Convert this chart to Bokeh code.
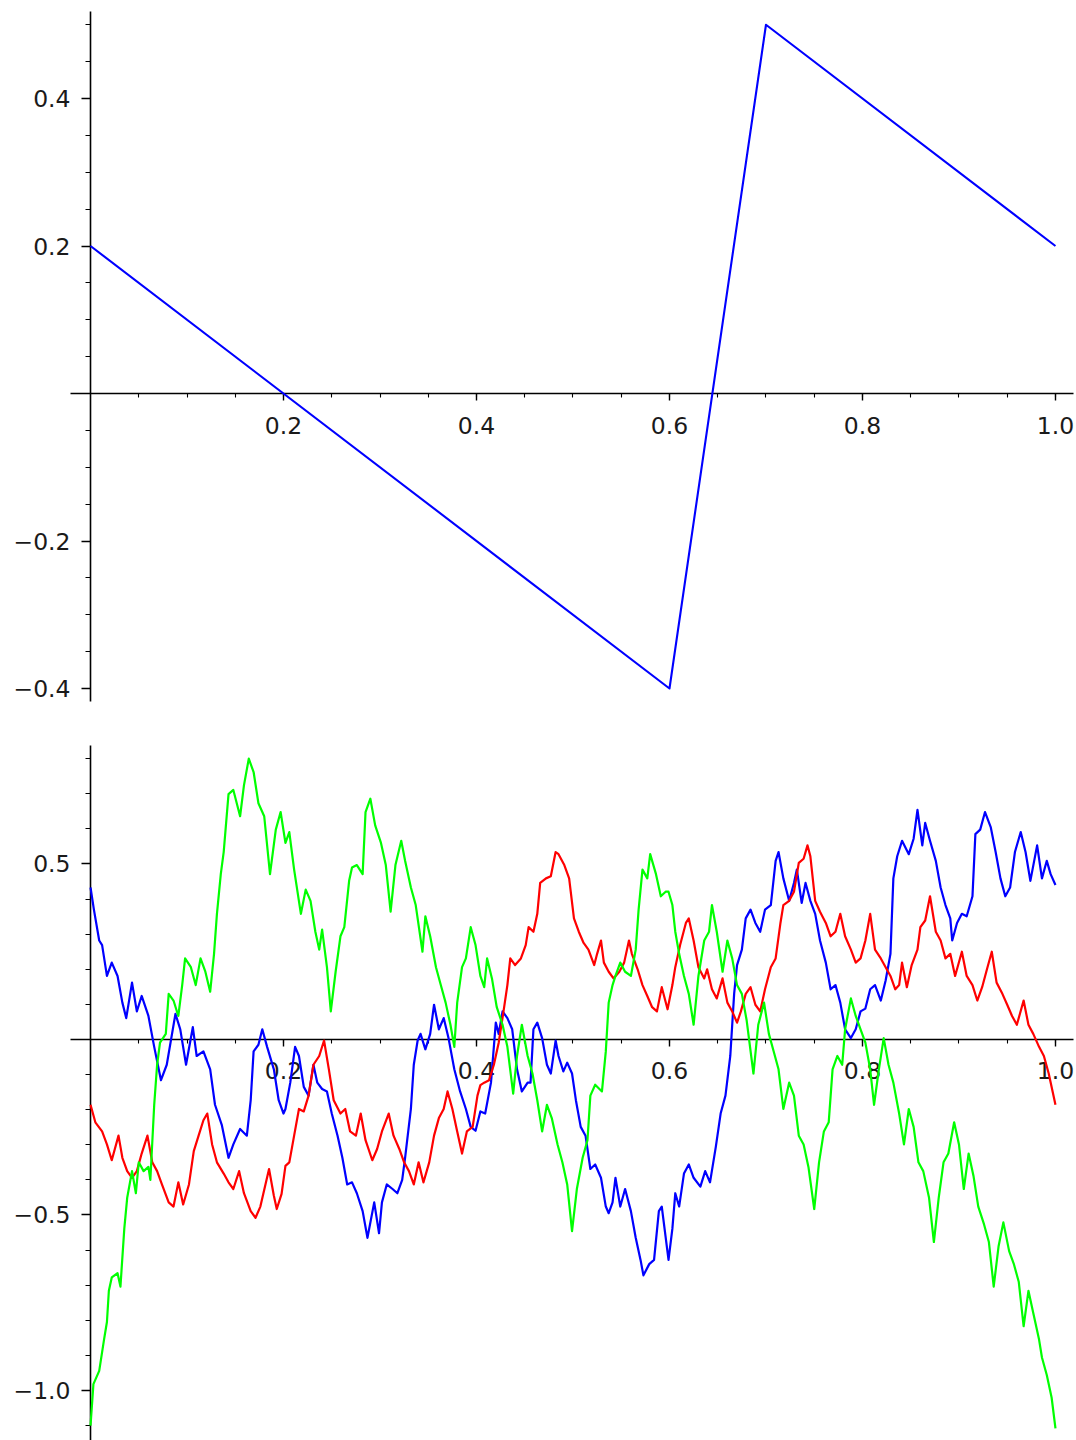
from bokeh.plotting import figure
from bokeh.layouts import column
from bokeh.models import Range1d, FixedTicker, CustomJSTickFormatter
from bokeh.embed import file_html
from bokeh.resources import INLINE

# ---------------- data ----------------
top_x = [0.0, 0.6, 0.7, 1.0]
top_y = [0.2, -0.4, 0.5, 0.2]

blue_x = [0.000, 0.0035, 0.009, 0.012, 0.017, 0.022, 0.028, 0.033, 0.037, 0.043, 0.048, 0.053, 0.060, 0.066, 0.073, 0.079,
          0.088, 0.093, 0.099, 0.106, 0.110, 0.117, 0.124, 0.129, 0.136, 0.143, 0.148, 0.155, 0.162, 0.166, 0.169, 0.174,
          0.178, 0.183, 0.190, 0.195, 0.200, 0.202, 0.207, 0.212, 0.216, 0.221, 0.226, 0.231, 0.235, 0.240, 0.245, 0.250,
          0.256, 0.261, 0.266, 0.271, 0.276, 0.282, 0.287, 0.294, 0.299, 0.302, 0.307, 0.313, 0.318, 0.323, 0.326, 0.332,
          0.335, 0.339, 0.342, 0.347, 0.352, 0.356, 0.361, 0.366, 0.371, 0.377, 0.383, 0.389, 0.394, 0.399, 0.404, 0.409,
          0.415, 0.420, 0.423, 0.427, 0.432, 0.437, 0.442, 0.447, 0.453, 0.456, 0.459, 0.463, 0.468, 0.473, 0.477, 0.482,
          0.485, 0.490, 0.494, 0.499, 0.503, 0.508, 0.513, 0.518, 0.523, 0.529, 0.534, 0.537, 0.541, 0.544, 0.549, 0.554,
          0.560, 0.565, 0.570, 0.573, 0.579, 0.584, 0.589, 0.592, 0.599, 0.603, 0.606, 0.610, 0.615, 0.620, 0.625, 0.632,
          0.637, 0.642, 0.648, 0.653, 0.658, 0.663, 0.667, 0.670, 0.675, 0.679, 0.684, 0.689, 0.694, 0.699, 0.705, 0.710,
          0.713, 0.718, 0.724, 0.729, 0.732, 0.737, 0.741, 0.746, 0.751, 0.756, 0.762, 0.767, 0.772, 0.777, 0.782, 0.788,
          0.793, 0.798, 0.803, 0.808, 0.813, 0.819, 0.824, 0.829, 0.832, 0.836, 0.841, 0.848, 0.853, 0.857, 0.862, 0.865,
          0.870, 0.876, 0.881, 0.886, 0.891, 0.893, 0.898, 0.903, 0.908, 0.914, 0.917, 0.922, 0.927, 0.933, 0.938, 0.943,
          0.948, 0.953, 0.958, 0.964, 0.969, 0.974, 0.981, 0.986, 0.991, 0.995, 1.000]
blue_y = [0.433, 0.370, 0.282, 0.269, 0.181, 0.219, 0.181, 0.105, 0.061, 0.162, 0.080, 0.124, 0.067, -0.021, -0.116, -0.072,
          0.073, 0.029, -0.072, 0.035, -0.047, -0.034, -0.085, -0.186, -0.243, -0.337, -0.299, -0.255, -0.274, -0.173, -0.034, -0.015,
          0.029, -0.021, -0.085, -0.173, -0.211, -0.198, -0.123, -0.021, -0.047, -0.135, -0.160, -0.072, -0.123, -0.141, -0.148, -0.211,
          -0.274, -0.337, -0.413, -0.407, -0.438, -0.489, -0.565, -0.464, -0.552, -0.464, -0.413, -0.426, -0.438, -0.400, -0.337, -0.198,
          -0.072, -0.003, 0.016, -0.028, 0.016, 0.099, 0.029, 0.061, 0.004, -0.085, -0.148, -0.198, -0.249, -0.260, -0.205, -0.211,
          -0.123, 0.048, 0.016, 0.080, 0.061, 0.029, -0.085, -0.148, -0.123, -0.123, 0.029, 0.048, 0.004, -0.072, -0.097, -0.003,
          -0.047, -0.091, -0.066, -0.097, -0.173, -0.249, -0.274, -0.369, -0.356, -0.394, -0.476, -0.495, -0.464, -0.394, -0.476, -0.426,
          -0.489, -0.565, -0.628, -0.672, -0.640, -0.628, -0.489, -0.476, -0.628, -0.539, -0.438, -0.476, -0.382, -0.356, -0.394, -0.419,
          -0.375, -0.407, -0.306, -0.211, -0.160, -0.047, 0.130, 0.212, 0.256, 0.345, 0.370, 0.332, 0.307, 0.370, 0.383, 0.509,
          0.534, 0.459, 0.395, 0.446, 0.484, 0.389, 0.446, 0.395, 0.358, 0.282, 0.219, 0.143, 0.155, 0.105, 0.029, 0.004,
          0.029, 0.080, 0.088, 0.143, 0.155, 0.111, 0.168, 0.244, 0.459, 0.522, 0.566, 0.528, 0.572, 0.654, 0.553, 0.617,
          0.566, 0.509, 0.433, 0.383, 0.345, 0.282, 0.332, 0.358, 0.351, 0.408, 0.585, 0.598, 0.648, 0.604, 0.534, 0.459,
          0.408, 0.433, 0.534, 0.591, 0.534, 0.452, 0.553, 0.459, 0.509, 0.471, 0.440]

red_x = [0.000, 0.005, 0.012, 0.017, 0.022, 0.029, 0.033, 0.038, 0.043, 0.048, 0.053, 0.059, 0.064, 0.069, 0.074, 0.081,
         0.086, 0.091, 0.096, 0.102, 0.107, 0.112, 0.117, 0.121, 0.126, 0.131, 0.138, 0.143, 0.148, 0.154, 0.159, 0.166,
         0.171, 0.176, 0.185, 0.190, 0.193, 0.198, 0.202, 0.206, 0.211, 0.216, 0.221, 0.226, 0.231, 0.237, 0.242, 0.247,
         0.252, 0.259, 0.264, 0.269, 0.275, 0.280, 0.285, 0.292, 0.297, 0.302, 0.309, 0.314, 0.320, 0.325, 0.330, 0.335,
         0.340, 0.345, 0.351, 0.356, 0.361, 0.366, 0.370, 0.375, 0.380, 0.385, 0.390, 0.396, 0.401, 0.404, 0.408, 0.413,
         0.418, 0.423, 0.428, 0.432, 0.435, 0.440, 0.446, 0.451, 0.454, 0.459, 0.463, 0.466, 0.472, 0.477, 0.482, 0.485,
         0.491, 0.496, 0.501, 0.506, 0.511, 0.516, 0.522, 0.525, 0.529, 0.532, 0.537, 0.542, 0.548, 0.553, 0.558, 0.561,
         0.567, 0.572, 0.577, 0.582, 0.587, 0.592, 0.598, 0.603, 0.606, 0.611, 0.617, 0.620, 0.625, 0.630, 0.636, 0.639,
         0.644, 0.649, 0.655, 0.660, 0.665, 0.670, 0.674, 0.679, 0.684, 0.689, 0.694, 0.699, 0.705, 0.710, 0.715, 0.718,
         0.724, 0.729, 0.734, 0.739, 0.743, 0.746, 0.751, 0.756, 0.762, 0.767, 0.772, 0.777, 0.782, 0.788, 0.793, 0.798,
         0.803, 0.808, 0.813, 0.819, 0.824, 0.829, 0.834, 0.838, 0.841, 0.846, 0.851, 0.857, 0.860, 0.865, 0.870, 0.876,
         0.881, 0.886, 0.891, 0.896, 0.903, 0.908, 0.914, 0.919, 0.924, 0.929, 0.934, 0.939, 0.945, 0.950, 0.955, 0.960,
         0.967, 0.972, 0.977, 0.983, 0.988, 0.993, 1.000]
red_y = [-0.186, -0.236, -0.262, -0.299, -0.344, -0.274, -0.337, -0.375, -0.394, -0.375, -0.325, -0.274, -0.350, -0.375, -0.413, -0.464,
         -0.476, -0.407, -0.470, -0.413, -0.318, -0.274, -0.230, -0.211, -0.299, -0.350, -0.382, -0.407, -0.426, -0.375, -0.438, -0.489,
         -0.508, -0.476, -0.369, -0.445, -0.483, -0.440, -0.360, -0.350, -0.274, -0.198, -0.205, -0.160, -0.072, -0.047, -0.003, -0.085,
         -0.173, -0.211, -0.198, -0.262, -0.274, -0.211, -0.287, -0.344, -0.312, -0.262, -0.211, -0.274, -0.312, -0.350, -0.375, -0.413,
         -0.350, -0.407, -0.350, -0.274, -0.224, -0.198, -0.148, -0.198, -0.262, -0.325, -0.262, -0.249, -0.160, -0.130, -0.123, -0.116,
         -0.072, -0.009, 0.080, 0.155, 0.231, 0.212, 0.231, 0.269, 0.320, 0.307, 0.358, 0.446, 0.459, 0.465, 0.534, 0.528,
         0.497, 0.459, 0.345, 0.307, 0.275, 0.256, 0.212, 0.244, 0.282, 0.219, 0.193, 0.174, 0.193, 0.219, 0.282, 0.244,
         0.200, 0.155, 0.124, 0.092, 0.080, 0.149, 0.086, 0.155, 0.206, 0.269, 0.332, 0.345, 0.282, 0.206, 0.174, 0.200,
         0.143, 0.117, 0.174, 0.105, 0.080, 0.048, 0.080, 0.130, 0.149, 0.099, 0.080, 0.143, 0.206, 0.231, 0.332, 0.383,
         0.395, 0.421, 0.503, 0.515, 0.553, 0.522, 0.395, 0.364, 0.332, 0.294, 0.307, 0.358, 0.294, 0.256, 0.219, 0.231,
         0.282, 0.358, 0.256, 0.231, 0.206, 0.181, 0.143, 0.155, 0.219, 0.149, 0.212, 0.256, 0.320, 0.339, 0.408, 0.307,
         0.282, 0.231, 0.244, 0.181, 0.250, 0.181, 0.155, 0.111, 0.149, 0.200, 0.250, 0.162, 0.130, 0.099, 0.067, 0.042,
         0.111, 0.042, 0.016, -0.021, -0.047, -0.097, -0.186]

green_x = [0.000, 0.003, 0.009, 0.014, 0.017, 0.019, 0.022, 0.028, 0.031, 0.035, 0.038, 0.043, 0.047, 0.050, 0.055, 0.060,
           0.062, 0.066, 0.069, 0.072, 0.078, 0.081, 0.086, 0.091, 0.095, 0.098, 0.104, 0.109, 0.114, 0.119, 0.124, 0.128,
           0.131, 0.135, 0.138, 0.143, 0.148, 0.155, 0.159, 0.164, 0.169, 0.174, 0.180, 0.186, 0.192, 0.197, 0.202, 0.206,
           0.211, 0.218, 0.223, 0.228, 0.233, 0.237, 0.240, 0.245, 0.249, 0.254, 0.259, 0.263, 0.268, 0.271, 0.276, 0.282,
           0.285, 0.290, 0.295, 0.301, 0.306, 0.311, 0.316, 0.322, 0.326, 0.332, 0.337, 0.344, 0.347, 0.352, 0.358, 0.363,
           0.368, 0.373, 0.377, 0.380, 0.385, 0.389, 0.394, 0.399, 0.404, 0.408, 0.411, 0.416, 0.421, 0.427, 0.432, 0.438,
           0.442, 0.447, 0.453, 0.458, 0.463, 0.468, 0.473, 0.478, 0.484, 0.489, 0.494, 0.499, 0.504, 0.510, 0.515, 0.518,
           0.523, 0.530, 0.534, 0.537, 0.541, 0.544, 0.549, 0.554, 0.560, 0.565, 0.568, 0.572, 0.577, 0.580, 0.586, 0.591,
           0.596, 0.599, 0.603, 0.606, 0.610, 0.615, 0.620, 0.625, 0.630, 0.636, 0.641, 0.644, 0.649, 0.655, 0.660, 0.665,
           0.670, 0.675, 0.680, 0.687, 0.692, 0.698, 0.703, 0.708, 0.713, 0.718, 0.724, 0.729, 0.734, 0.739, 0.744, 0.750,
           0.755, 0.760, 0.765, 0.769, 0.774, 0.779, 0.782, 0.788, 0.793, 0.798, 0.803, 0.808, 0.812, 0.817, 0.822, 0.827,
           0.832, 0.838, 0.843, 0.848, 0.853, 0.858, 0.863, 0.869, 0.874, 0.879, 0.884, 0.889, 0.895, 0.900, 0.905, 0.910,
           0.915, 0.920, 0.926, 0.931, 0.936, 0.941, 0.946, 0.952, 0.957, 0.962, 0.967, 0.972, 0.977, 0.983, 0.986, 0.991,
           0.996, 1.000]
green_y = [-1.100, -0.982, -0.944, -0.855, -0.805, -0.716, -0.678, -0.666, -0.704, -0.539, -0.451, -0.375, -0.438, -0.350, -0.375, -0.363,
           -0.400, -0.186, -0.072, -0.009, 0.016, 0.130, 0.111, 0.067, 0.155, 0.231, 0.206, 0.155, 0.231, 0.193, 0.136, 0.244,
           0.358, 0.471, 0.534, 0.699, 0.711, 0.636, 0.724, 0.800, 0.762, 0.673, 0.636, 0.471, 0.598, 0.648, 0.560, 0.591,
           0.484, 0.358, 0.427, 0.395, 0.307, 0.256, 0.313, 0.206, 0.080, 0.193, 0.294, 0.320, 0.452, 0.490, 0.497, 0.471,
           0.648, 0.686, 0.610, 0.560, 0.497, 0.364, 0.497, 0.566, 0.509, 0.433, 0.383, 0.250, 0.351, 0.294, 0.206, 0.155,
           0.105, 0.042, -0.021, 0.105, 0.206, 0.231, 0.320, 0.269, 0.181, 0.149, 0.231, 0.174, 0.092, 0.042, -0.021, -0.154,
           -0.047, 0.042, -0.047, -0.097, -0.173, -0.262, -0.186, -0.224, -0.299, -0.350, -0.413, -0.546, -0.426, -0.337, -0.287, -0.160,
           -0.129, -0.148, -0.034, 0.105, 0.155, 0.181, 0.219, 0.193, 0.181, 0.256, 0.370, 0.484, 0.459, 0.528, 0.471, 0.408,
           0.421, 0.421, 0.383, 0.307, 0.244, 0.181, 0.130, 0.042, 0.181, 0.282, 0.307, 0.383, 0.307, 0.193, 0.282, 0.231,
           0.155, 0.130, 0.054, -0.097, 0.042, 0.105, 0.016, -0.034, -0.085, -0.198, -0.123, -0.160, -0.274, -0.299, -0.363, -0.483,
           -0.350, -0.262, -0.236, -0.085, -0.047, -0.072, 0.029, 0.117, 0.067, 0.029, -0.009, -0.085, -0.186, -0.085, 0.004, -0.072,
           -0.123, -0.211, -0.299, -0.198, -0.249, -0.350, -0.375, -0.451, -0.577, -0.451, -0.350, -0.325, -0.236, -0.299, -0.426, -0.325,
           -0.388, -0.476, -0.527, -0.577, -0.704, -0.590, -0.521, -0.603, -0.641, -0.691, -0.817, -0.716, -0.779, -0.855, -0.906, -0.956,
           -1.020, -1.108]

top_xticks = [0.2, 0.4, 0.6, 0.8, 1.0]
top_yticks = [-0.4, -0.2, 0.2, 0.4]
bot_xticks = [0.2, 0.4, 0.6, 0.8, 1.0]
bot_yticks = [-1.0, -0.5, 0.5]
top_yminor = [-0.4, -0.35, -0.3, -0.25, -0.2, -0.15, -0.1, -0.05, 0.05, 0.1, 0.15, 0.2, 0.25, 0.3, 0.35, 0.4, 0.45, 0.5]
xminor = [0.05, 0.1, 0.15, 0.2, 0.25, 0.3, 0.35, 0.4, 0.45, 0.5, 0.55, 0.6, 0.65, 0.7, 0.75, 0.8, 0.85, 0.9, 0.95, 1.0]
bot_yminor = [-1.1, -1.0, -0.9, -0.8, -0.7, -0.6, -0.5, -0.4, -0.3, -0.2, -0.1, 0.1, 0.2, 0.3, 0.4, 0.5, 0.6, 0.7, 0.8]

# view windows and axis-line extents
x_view = (-0.0933, 1.0218)
x_axis_bounds = (-0.0207, 1.0187)
top_y_view = (-0.4461, 0.5329)
top_y_bounds = (-0.418, 0.518)
bot_y_view = (-1.1425, 0.9031)
bot_y_bounds = (-1.1425, 0.838)

FONT = "DejaVu Sans"
FS = "23.5px"


def style_axes(p, xt, xm, yt, ym, ybounds):
    fmt = CustomJSTickFormatter(code="return tick.toFixed(1).replace('-', '\u2212');")
    for ax in (p.xaxis[0], p.yaxis[0]):
        ax.fixed_location = 0
        ax.level = "underlay"
        ax.axis_line_color = "black"
        ax.axis_line_width = 1.6
        ax.major_tick_line_color = "black"
        ax.minor_tick_line_color = "black"
        ax.major_tick_line_width = 1.4
        ax.minor_tick_line_width = 1.1
        ax.major_tick_in = 0
        ax.minor_tick_in = 0
        ax.major_label_text_font = FONT
        ax.major_label_text_font_size = FS
        ax.major_label_text_color = "#1a1a1a"
        ax.formatter = fmt
    p.xaxis[0].bounds = x_axis_bounds
    p.yaxis[0].bounds = ybounds
    p.xaxis[0].ticker = FixedTicker(ticks=xt, minor_ticks=xm)
    p.yaxis[0].ticker = FixedTicker(ticks=yt, minor_ticks=ym)
    p.xaxis[0].major_tick_out = 7
    p.xaxis[0].minor_tick_out = 4
    p.yaxis[0].major_tick_out = 9
    p.yaxis[0].minor_tick_out = 5
    p.xaxis[0].major_label_standoff = 16
    p.yaxis[0].major_label_standoff = 11
    p.xgrid.visible = False
    p.ygrid.visible = False
    p.outline_line_color = None
    p.background_fill_color = "white"
    p.border_fill_color = "white"


def make_fig(h, yview):
    return figure(width=1076, height=h, output_backend="svg", toolbar_location=None,
                  x_range=Range1d(*x_view), y_range=Range1d(*yview),
                  min_border_left=0, min_border_right=0, min_border_top=0, min_border_bottom=0)


p1 = make_fig(722, top_y_view)
p1.line(top_x, top_y, line_color="#0000ff", line_width=2.1, line_join="round")
style_axes(p1, top_xticks, xminor, top_yticks, top_yminor, top_y_bounds)

p2 = make_fig(718, bot_y_view)
p2.line(blue_x, blue_y, line_color="#0000ff", line_width=2.2, line_join="round")
p2.line(red_x, red_y, line_color="#ff0000", line_width=2.2, line_join="round")
p2.line(green_x, green_y, line_color="#00ff00", line_width=2.2, line_join="round")
style_axes(p2, bot_xticks, xminor, bot_yticks, bot_yminor, bot_y_bounds)

layout = column(p1, p2, spacing=0)
open("out.html", "w").write(file_html(layout, INLINE))
